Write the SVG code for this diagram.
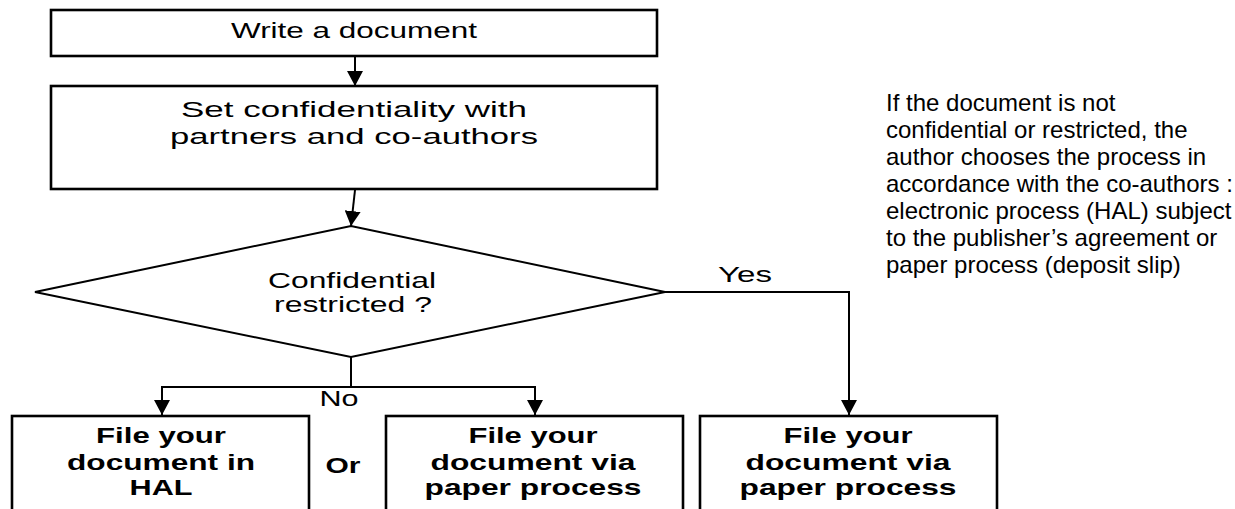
<svg xmlns="http://www.w3.org/2000/svg" width="1235" height="509" viewBox="0 0 1235 509">
<defs>
<marker id="ah" markerWidth="15" markerHeight="16" refX="15" refY="8" orient="auto" markerUnits="userSpaceOnUse">
<path d="M0,0 L15,8 L0,16 Z" fill="#000"/>
</marker>
<style>
.box{fill:#fff;stroke:#000;stroke-width:2.6}
.dia{fill:#fff;stroke:#000;stroke-width:2}
.ln{fill:none;stroke:#000;stroke-width:2}
.t{font-family:"Liberation Sans",Arial,sans-serif;font-size:22.5px;fill:#000;text-anchor:middle}
.b{font-family:"Liberation Sans",Arial,sans-serif;font-size:22px;font-weight:bold;fill:#000;text-anchor:middle}
.p{font-family:"Liberation Sans",Arial,sans-serif;font-size:24px;fill:#000}
</style>
</defs>
<rect width="1235" height="509" fill="#fff"/>
<g id="connectors">
<line class="ln" x1="355" y1="57" x2="355" y2="86" marker-end="url(#ah)"/>
<line class="ln" x1="355" y1="190" x2="351" y2="226" marker-end="url(#ah)"/>
<polyline class="ln" points="665,292 849,292 849,415" marker-end="url(#ah)"/>
<line class="ln" x1="351" y1="357" x2="351" y2="387"/>
<polyline class="ln" points="162,415 162,387 535,387 535,415" />
<line class="ln" x1="162" y1="398" x2="162" y2="415" marker-end="url(#ah)"/>
<line class="ln" x1="535" y1="398" x2="535" y2="415" marker-end="url(#ah)"/>
<text class="t" x="745" y="282" textLength="54" lengthAdjust="spacingAndGlyphs">Yes</text>
<text class="t" x="339" y="406" textLength="39" lengthAdjust="spacingAndGlyphs">No</text>
</g>
<g id="n-write">
<rect class="box" x="51" y="10" width="606" height="46"/>
<text class="t" x="354" y="38" textLength="246" lengthAdjust="spacingAndGlyphs">Write a document</text>
</g>
<g id="n-set">
<rect class="box" x="51" y="86" width="606" height="103"/>
<text class="t" x="354" y="117" textLength="346" lengthAdjust="spacingAndGlyphs">Set confidentiality with</text>
<text class="t" x="354" y="144" textLength="368" lengthAdjust="spacingAndGlyphs">partners and co-authors</text>
</g>
<g id="n-decision">
<polygon class="dia" points="35,292 351,226 665,292 351,357"/>
<text class="t" x="352" y="288" textLength="168" lengthAdjust="spacingAndGlyphs">Confidential</text>
<text class="t" x="353" y="312" textLength="158" lengthAdjust="spacingAndGlyphs">restricted ?</text>
</g>
<g id="n-hal">
<rect class="box" x="12" y="416" width="297" height="100"/>
<text class="b" x="161" y="443" textLength="130" lengthAdjust="spacingAndGlyphs">File your</text>
<text class="b" x="161" y="470" textLength="188" lengthAdjust="spacingAndGlyphs">document in</text>
<text class="b" x="161" y="495" textLength="63" lengthAdjust="spacingAndGlyphs">HAL</text>
</g>
<g id="n-or">
<text class="b" x="343" y="473" textLength="35" lengthAdjust="spacingAndGlyphs">Or</text>
</g>
<g id="n-paper1">
<rect class="box" x="386" y="416" width="297" height="100"/>
<text class="b" x="533" y="443" textLength="129" lengthAdjust="spacingAndGlyphs">File your</text>
<text class="b" x="533" y="470" textLength="205" lengthAdjust="spacingAndGlyphs">document via</text>
<text class="b" x="533" y="495" textLength="217" lengthAdjust="spacingAndGlyphs">paper process</text>
</g>
<g id="n-paper2">
<rect class="box" x="700" y="416" width="297" height="100"/>
<text class="b" x="848" y="443" textLength="129" lengthAdjust="spacingAndGlyphs">File your</text>
<text class="b" x="848" y="470" textLength="205" lengthAdjust="spacingAndGlyphs">document via</text>
<text class="b" x="848" y="495" textLength="217" lengthAdjust="spacingAndGlyphs">paper process</text>
</g>
<g id="n-note">
<text class="p" x="886" y="111">If the document is not</text>
<text class="p" x="886" y="138">confidential or restricted, the</text>
<text class="p" x="886" y="165">author chooses the process in</text>
<text class="p" x="886" y="192">accordance with the co-authors :</text>
<text class="p" x="886" y="219">electronic process (HAL) subject</text>
<text class="p" x="886" y="246">to the publisher’s agreement or</text>
<text class="p" x="886" y="273">paper process (deposit slip)</text>
</g>
</svg>
